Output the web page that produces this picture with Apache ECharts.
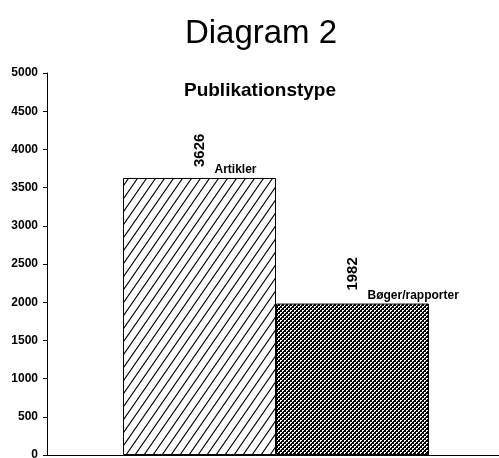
<!DOCTYPE html>
<html>
<head>
<meta charset="utf-8">
<script src="https://cdn.jsdelivr.net/npm/echarts@6/dist/echarts.min.js"></script>
<style>html,body{margin:0;padding:0;background:#fff}#c{width:499px;height:458px}</style>
</head>
<body>
<div id="c"></div>
<script>
var titleText = 'Diagram 2';
var subtitleText = 'Publikationstype';
var categories = ['Publikationstype'];
var seriesNames = ['Artikler', 'Bøger/rapporter'];
var artiklerValues = [3626];
var bogerValues = [1982];
var yTicks = [0, 500, 1000, 1500, 2000, 2500, 3000, 3500, 4000, 4500, 5000];

function hatchPattern() {
  var w = 9, h = 13;
  var c = document.createElement('canvas');
  c.width = w; c.height = h;
  var g = c.getContext('2d');
  g.fillStyle = '#fff'; g.fillRect(0, 0, w, h);
  g.strokeStyle = '#000'; g.lineWidth = 1.1;
  g.beginPath();
  g.moveTo(-w, 2 * h); g.lineTo(2 * w, -h);
  g.moveTo(-2 * w, 2 * h); g.lineTo(w, -h);
  g.moveTo(0, 2 * h); g.lineTo(3 * w, -h);
  g.stroke();
  return c;
}
function checkPattern() {
  var c = document.createElement('canvas');
  c.width = 4; c.height = 4;
  var g = c.getContext('2d');
  g.fillStyle = '#000'; g.fillRect(0, 0, 4, 4);
  g.fillStyle = '#fff';
  [[0,0],[1,0],[0,1],[2,2],[3,2],[2,3]].forEach(function (p) { g.fillRect(p[0], p[1], 1, 1); });
  return c;
}

var font = '"Liberation Sans", Arial, sans-serif';
var chart = echarts.init(document.getElementById('c'), null, {renderer: 'canvas'});

function nameMark(name, value) {
  return {
    symbol: 'rect', symbolSize: 1,
    itemStyle: {color: 'rgba(0,0,0,0)'},
    label: {show: true, position: 'inside', align: 'left', verticalAlign: 'middle',
      offset: [15, -8], formatter: name, color: '#000', fontFamily: font, fontWeight: 'bold', fontSize: 12},
    data: [{coord: [categories[0], value]}]
  };
}
function valueLabel(dx) {
  return {show: true, position: 'top', rotate: 90, align: 'left', verticalAlign: 'middle',
    distance: 13, offset: [dx, 0], color: '#000', fontFamily: font, fontWeight: 'bold', fontSize: 15};
}
var yMin = yTicks[0], yMax = yTicks[yTicks.length - 1], yStep = yTicks[1] - yTicks[0];

chart.setOption({
  animation: false,
  backgroundColor: '#fff',
  title: [
    {text: titleText, left: 256, textAlign: 'center', top: 12,
      textStyle: {fontFamily: font, fontSize: 33, fontWeight: 'normal', color: '#000'}},
    {text: subtitleText, left: 255, textAlign: 'center', top: 76,
      textStyle: {fontFamily: font, fontSize: 19, fontWeight: 'bold', color: '#000'}}
  ],
  grid: [
    {left: 53, right: 0, top: 73, bottom: 3, containLabel: false, outerBoundsMode: 'none'},
    {left: 47, right: 0, top: 73, bottom: 3, containLabel: false, outerBoundsMode: 'none'}
  ],
  xAxis: [
    {gridIndex: 0, type: 'category', data: categories,
      axisLine: {show: false}, axisTick: {show: false}, axisLabel: {show: false}},
    {gridIndex: 1, type: 'category', data: categories,
      axisLine: {show: true, lineStyle: {color: '#000', width: 1}},
      axisTick: {show: false}, axisLabel: {show: false}}
  ],
  yAxis: [
    {gridIndex: 0, type: 'value', min: yMin, max: yMax, interval: yStep, show: false},
    {gridIndex: 1, type: 'value', min: yMin, max: yMax, interval: yStep,
      axisLine: {show: true, lineStyle: {color: '#000', width: 1}},
      axisTick: {show: true, length: 4, lineStyle: {color: '#000'}},
      axisLabel: {margin: 9, color: '#000', fontFamily: font, fontWeight: 'bold', fontSize: 12,
        formatter: function (v) { return String(v); }},
      splitLine: {show: false}}
  ],
  series: [
    {name: seriesNames[0], type: 'bar', xAxisIndex: 0, yAxisIndex: 0, data: artiklerValues, barWidth: 153, barGap: '0%',
      itemStyle: {color: {image: hatchPattern(), repeat: 'repeat'}, borderColor: '#000', borderWidth: 1},
      label: valueLabel(-2),
      markPoint: nameMark(seriesNames[0], artiklerValues[0])},
    {name: seriesNames[1], type: 'bar', xAxisIndex: 0, yAxisIndex: 0, data: bogerValues, barWidth: 153, barGap: '0%',
      itemStyle: {color: {image: checkPattern(), repeat: 'repeat'}, borderColor: '#000', borderWidth: 1},
      label: valueLabel(0),
      markPoint: nameMark(seriesNames[1], bogerValues[0])}
  ]
});
</script>
</body>
</html>
